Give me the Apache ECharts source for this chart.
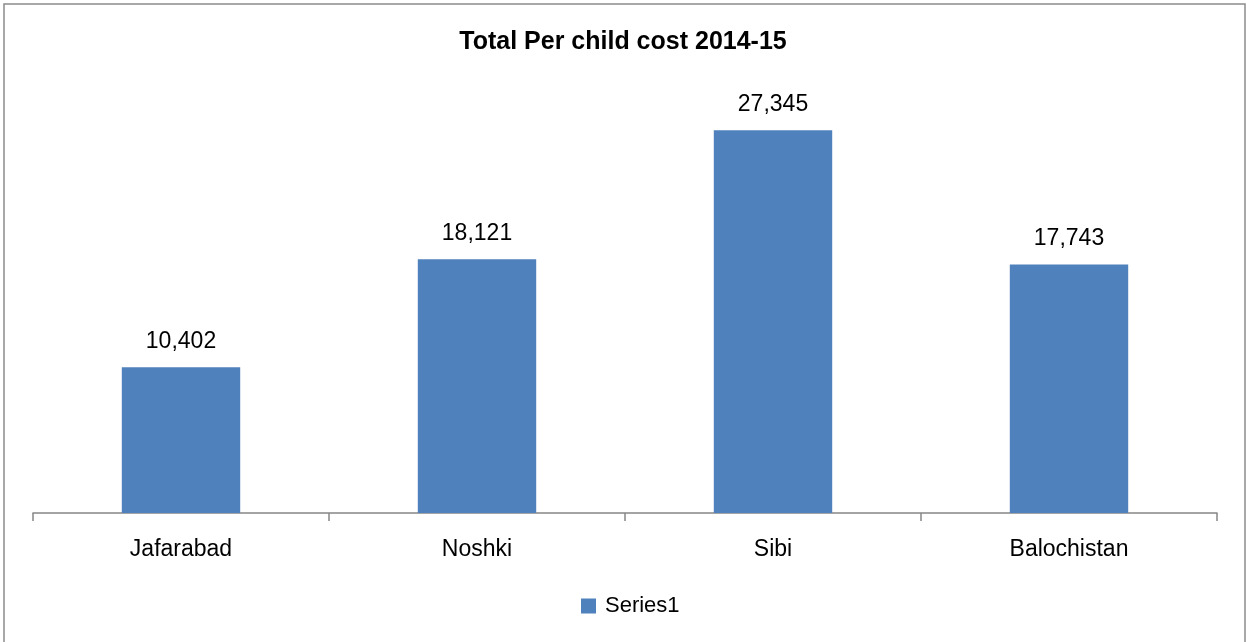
<!DOCTYPE html>
<html>
<head>
<meta charset="utf-8">
<script src="https://cdn.jsdelivr.net/npm/echarts@6/dist/echarts.min.js"></script>
<style>
  html, body { margin: 0; padding: 0; background: #fff; }
  #chart { width: 1246px; height: 642px; }
</style>
</head>
<body>
<div id="chart"></div>
<script>
// Per child cost by district, 2014-15
const categories = ['Jafarabad', 'Noshki', 'Sibi', 'Balochistan'];
const seriesName = 'Series1';
const costValues = [10402, 18121, 27345, 17743];
const titleText = 'Total Per child cost 2014-15';

const FONT = '"Liberation Sans", Arial, sans-serif';
const BAR_COLOR = '#4F81BD';
const AXIS_COLOR = '#868686';

const chart = echarts.init(document.getElementById('chart'), null, { renderer: 'canvas' });

chart.setOption({
  animation: false,
  backgroundColor: '#fff',
  title: {
    text: titleText,
    left: 'center',
    top: 25,
    textStyle: { fontFamily: FONT, fontSize: 25, fontWeight: 'bold', color: '#000' }
  },
  legend: {
    data: [seriesName],
    bottom: 20,
    left: 576,
    itemWidth: 15,
    itemHeight: 15,
    icon: 'rect',
    itemGap: 0,
    textStyle: { fontFamily: FONT, fontSize: 22, color: '#000', padding: [0, 0, 0, 4] }
  },
  grid: { left: 33, right: 29, top: 93, bottom: 129, containLabel: false },
  xAxis: {
    type: 'category',
    data: categories,
    axisLine: { show: true, lineStyle: { color: AXIS_COLOR, width: 1.5 } },
    axisTick: { show: true, alignWithLabel: false, length: 8, lineStyle: { color: AXIS_COLOR, width: 1.5 } },
    axisLabel: { fontFamily: FONT, fontSize: 23, color: '#000', margin: 25 },
    splitLine: { show: false }
  },
  yAxis: {
    type: 'value',
    min: 0,
    max: 30000,
    interval: 5000,
    show: false,
    splitLine: { show: false }
  },
  series: [{
    name: seriesName,
    type: 'bar',
    data: costValues,
    barWidth: '40%',
    itemStyle: { color: BAR_COLOR },
    label: {
      show: true,
      position: 'top',
      distance: 14,
      fontFamily: FONT,
      fontSize: 23,
      color: '#000',
      formatter: p => p.value.toLocaleString('en-US')
    }
  }],
  graphic: [{
    type: 'rect',
    silent: true,
    shape: { x: 4, y: 4, width: 1241, height: 660 },
    style: { fill: null, stroke: '#8c8c8c', lineWidth: 1.5 }
  }]
});
</script>
</body>
</html>
